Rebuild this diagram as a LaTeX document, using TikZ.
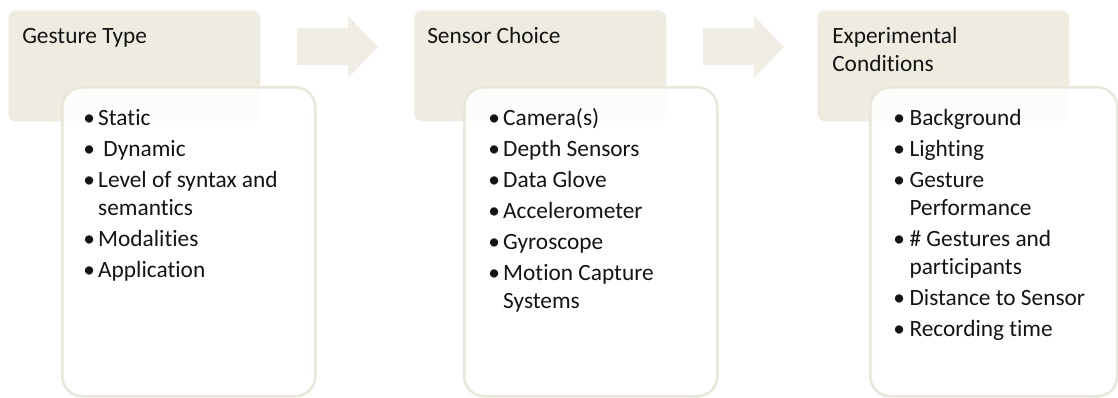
\documentclass[tikz,border=0pt]{standalone}
\usepackage{fontspec}
\setmainfont{Carlito}[Ligatures=CommonOff]
\usepackage{xcolor}
\usepackage{tikz}
\usetikzlibrary{positioning}
\definecolor{headtan}{RGB}{238,236,225}
\definecolor{arrowtan}{RGB}{239,237,228}
\definecolor{edgetan}{RGB}{233,231,218}
\definecolor{inktext}{RGB}{20,20,20}
\newcommand{\nextitem}{\\[2.25pt]}
\tikzset{
	headbox/.style={
		fill=headtan,
		rounded corners=6pt,
		anchor=north west,
		inner sep=0pt,
		minimum width=189pt,
		minimum height=83.25pt
	},
	listbox/.style={
		draw=edgetan,
		line width=1.9pt,
		fill=white,
		fill opacity=0.88,
		rounded corners=15pt,
		anchor=north west,
		inner sep=0pt,
		minimum height=231.75pt
	},
	blockarrow/.style={
		fill=arrowtan
	},
	title/.style={
		anchor=base west,
		inner sep=0pt,
		text=inktext
	},
	items/.style={
		anchor=base west,
		inner sep=0pt,
		text=inktext
	},
	every node/.append style={font=\fontsize{17.5pt}{21pt}\selectfont}
}
\begin{document}
\begin{tikzpicture}[x=0.75pt,y=-0.75pt]
	\useasboundingbox (0,0) rectangle (1118,397);
	
	% --- HEADER BOXES ---
	\node[headbox] (head1) at (8,10) {};
	\node[headbox] (head2) at (414,10) {};
	\node[headbox] (head3) at (817,10) {};
	
	% --- BLOCK ARROWS BETWEEN HEADERS ---
	\foreach \dx in {0,406} {
		\fill[blockarrow] ({297+\dx},28) -- ({348+\dx},28) -- ({348+\dx},16)
			-- ({378+\dx},47) -- ({348+\dx},78) -- ({348+\dx},65)
			-- ({297+\dx},65) -- cycle;
	}
	
	% --- LIST BOXES (OVERLAP THE HEADERS) ---
	\node[listbox, minimum width=189.75pt] (box1) at (61,86) {};
	\node[listbox, minimum width=189.75pt] (box2) at (463,86) {};
	\node[listbox, minimum width=185.25pt] (box3) at (869,86) {};
	
	% --- TITLES ---
	\node[title] (title1) at (22,43) {Gesture Type};
	\node[title] (title2) at (427,43) {Sensor Choice};
	\node[title] (title3) at (832,43)
	{\begin{tabular}[t]{@{}l@{}}Experimental\\Conditions\end{tabular}};
	
	% --- BULLET LISTS ---
	\node[items] (list1) at (83,125) {\begin{tabular}[t]{@{}l@{\hspace{2.5pt}}l@{}}
		\textbullet & Static\nextitem
		\textbullet & \ Dynamic\nextitem
		\textbullet & Level of syntax and\\
		& semantics\nextitem
		\textbullet & Modalities\nextitem
		\textbullet & Application
	\end{tabular}};
	
	\node[items] (list2) at (488,125) {\begin{tabular}[t]{@{}l@{\hspace{2.5pt}}l@{}}
		\textbullet & Camera(s)\nextitem
		\textbullet & Depth Sensors\nextitem
		\textbullet & Data Glove\nextitem
		\textbullet & Accelerometer\nextitem
		\textbullet & Gyroscope\nextitem
		\textbullet & Motion Capture\\
		& Systems
	\end{tabular}};
	
	\node[items] (list3) at (893,125) {\begin{tabular}[t]{@{}l@{\hspace{3.5pt}}l@{}}
		\textbullet & Background\nextitem
		\textbullet & Lighting\nextitem
		\textbullet & Gesture\\
		& Performance\nextitem
		\textbullet & \# Gestures and\\
		& participants\nextitem
		\textbullet & Distance to Sensor\nextitem
		\textbullet & Recording time
	\end{tabular}};
	
\end{tikzpicture}
\end{document}
